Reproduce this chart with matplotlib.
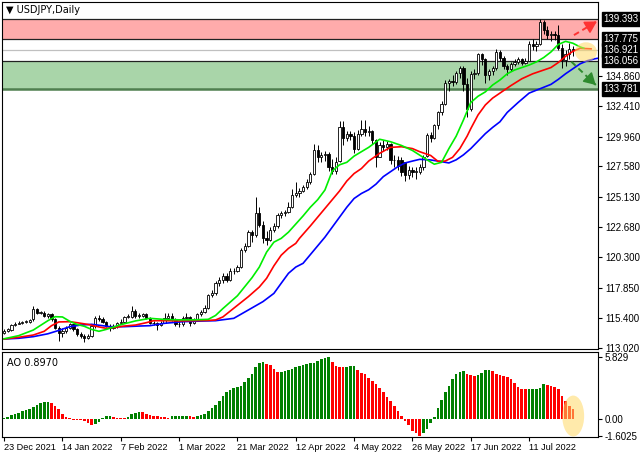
import numpy as np
import matplotlib.pyplot as plt
import matplotlib.transforms as mtransforms
from matplotlib.patches import Ellipse

plt.rcParams['font.family'] = ['Liberation Sans', 'DejaVu Sans']

# x-axis date labels, one every 16 bars
dates = ['23 Dec 2021', '14 Jan 2022', '7 Feb 2022', '1 Mar 2022', '21 Mar 2022',
         '12 Apr 2022', '4 May 2022', '26 May 2022', '17 Jun 2022', '11 Jul 2022']
date_pos = [0, 16, 32, 48, 64, 80, 96, 112, 128, 144]

# daily candles
opens = [114.2, 114.4, 114.45, 114.85, 114.95, 115.05, 115.1, 115.1, 115.3, 116.1,
         115.85, 115.85, 115.6, 115.7, 115.3, 114.65, 114.2, 114.35, 114.6, 114.9,
         114.5, 114.15, 114.0, 113.85, 114.0, 114.75, 115.45, 115.3, 115.1, 114.8,
         114.6, 114.75, 115.0, 115.1, 115.5, 115.5, 116.0, 115.6, 115.6, 115.7,
         115.4, 115.0, 115.0, 114.85, 115.05, 115.45, 115.6, 115.3, 114.95, 114.9,
         115.4, 115.5, 115.05, 115.3, 115.7, 115.9, 116.2, 117.25, 117.4, 118.2,
         118.45, 118.8, 118.5, 119.15, 119.2, 119.5, 120.85, 121.15, 122.35, 122.05,
         123.8, 122.85, 121.8, 121.7, 122.5, 122.8, 123.65, 123.8, 123.95, 124.35,
         125.3, 125.4, 125.6, 125.95, 126.35, 126.95, 128.85, 128.3, 128.45, 128.55,
         127.5, 127.2, 128.0, 130.75, 129.85, 130.2, 130.05, 128.95, 130.2, 130.55,
         130.3, 130.4, 129.7, 128.35, 129.25, 129.15, 129.35, 128.1, 128.05, 128.05,
         127.9, 126.9, 127.3, 127.1, 127.15, 127.5, 128.4, 130.1, 129.85, 130.9,
         131.9, 132.6, 134.3, 134.4, 134.35, 135.1, 135.45, 134.2, 132.2, 135.0,
         135.1, 136.6, 136.2, 134.9, 135.2, 135.45, 136.75, 136.25, 135.6, 135.35,
         135.75, 135.95, 136.2, 135.9, 136.05, 137.4, 137.25, 137.4, 139.15, 138.5,
         138.1, 138.2, 138.1, 137.05, 136.1, 136.6, 136.95]
highs = [114.55, 114.6, 114.95, 115.1, 115.15, 115.2, 115.25, 115.35, 116.35, 116.2,
         116.0, 115.95, 115.85, 115.8, 115.4, 114.8, 114.6, 114.8, 115.05, 114.95,
         114.6, 114.3, 114.1, 114.15, 114.85, 115.6, 115.65, 115.5, 115.2, 114.9,
         114.9, 115.1, 115.3, 115.6, 115.75, 116.35, 116.1, 115.8, 115.85, 115.8,
         115.5, 115.2, 115.1, 115.2, 115.8, 115.8, 115.8, 115.4, 115.2, 115.55,
         115.8, 115.6, 115.45, 115.85, 116.05, 116.45, 117.35, 117.7, 118.4, 118.7,
         119.0, 119.0, 119.4, 119.45, 119.7, 121.0, 121.4, 122.5, 122.45, 125.1,
         124.3, 123.2, 122.4, 122.75, 123.0, 123.85, 124.0, 124.05, 124.7, 125.8,
         126.3, 125.85, 126.1, 126.6, 127.1, 129.4, 129.3, 128.7, 128.8, 128.7,
         128.2, 128.3, 131.2, 131.2, 130.45, 130.4, 130.35, 130.5, 131.3, 131.3,
         130.8, 130.5, 129.8, 129.5, 129.7, 129.6, 129.45, 128.45, 128.4, 128.3,
         127.95, 127.6, 127.5, 127.5, 127.8, 128.5, 130.25, 130.3, 131.0, 132.0,
         132.8, 134.5, 134.6, 134.9, 135.25, 135.6, 135.6, 134.7, 135.2, 135.4,
         136.7, 136.7, 136.3, 135.4, 135.6, 136.95, 136.9, 136.4, 135.8, 135.95,
         136.15, 136.35, 136.3, 136.3, 137.6, 137.8, 137.6, 139.39, 139.3, 138.85,
         138.4, 138.45, 138.9, 137.4, 136.9, 137.45, 137.2]
lows = [114.1, 114.3, 114.4, 114.8, 114.9, 114.95, 115.0, 115.05, 115.2, 115.75,
        115.7, 115.5, 115.45, 115.2, 114.5, 113.6, 113.9, 114.2, 114.5, 114.4,
        114.0, 113.8, 113.5, 113.7, 113.9, 114.6, 115.2, 115.0, 114.7, 114.4,
        114.5, 114.65, 114.9, 115.0, 115.4, 115.45, 115.45, 115.4, 115.5, 115.3,
        114.9, 114.85, 114.45, 114.8, 115.0, 115.35, 115.2, 114.8, 114.7, 114.8,
        115.3, 114.75, 114.95, 115.2, 115.6, 115.8, 116.1, 117.1, 117.3, 118.0,
        118.2, 118.3, 118.35, 118.95, 119.1, 119.4, 120.7, 121.1, 121.5, 121.95,
        122.7, 121.4, 121.3, 121.6, 122.3, 122.65, 123.4, 123.6, 123.85, 124.2,
        125.1, 125.1, 125.5, 125.8, 126.2, 126.9, 127.9, 127.9, 128.0, 127.2,
        126.95, 127.0, 127.9, 129.3, 129.6, 129.65, 128.65, 128.85, 130.0, 130.0,
        130.0, 129.4, 127.55, 128.3, 128.8, 128.9, 127.8, 127.5, 127.3, 126.8,
        126.4, 126.6, 126.7, 126.6, 127.0, 127.3, 128.3, 129.5, 129.8, 130.6,
        131.7, 132.5, 133.6, 134.0, 134.2, 134.7, 133.6, 131.5, 132.0, 134.6,
        134.9, 135.7, 134.3, 134.5, 134.9, 135.3, 136.0, 135.4, 134.9, 135.2,
        135.6, 135.8, 135.7, 135.8, 136.0, 136.9, 136.8, 137.3, 138.2, 137.8,
        137.6, 137.7, 136.9, 135.5, 135.65, 136.2, 136.4]
closes = [114.4, 114.5, 114.85, 114.95, 115.05, 115.1, 115.1, 115.25, 116.1, 115.85,
          115.9, 115.6, 115.7, 115.3, 114.65, 114.2, 114.35, 114.6, 114.9, 114.5,
          114.15, 114.0, 113.85, 114.0, 114.75, 115.45, 115.3, 115.1, 114.8, 114.6,
          114.75, 115.0, 115.1, 115.5, 115.55, 116.0, 115.6, 115.6, 115.7, 115.4,
          115.0, 115.0, 114.85, 115.05, 115.45, 115.6, 115.3, 114.95, 114.9, 115.4,
          115.5, 115.05, 115.3, 115.7, 115.9, 116.2, 117.25, 117.4, 118.2, 118.45,
          118.8, 118.5, 119.15, 119.2, 119.5, 120.85, 121.15, 122.35, 122.05, 123.8,
          122.85, 121.8, 121.7, 122.5, 122.8, 123.65, 123.8, 123.95, 124.35, 125.3,
          125.4, 125.6, 125.95, 126.35, 126.95, 128.85, 128.3, 128.45, 128.55, 127.5,
          127.2, 127.9, 130.75, 129.85, 130.2, 130.05, 128.95, 130.2, 130.55, 130.3,
          130.4, 129.7, 128.35, 129.25, 129.15, 129.35, 128.1, 128.05, 127.6, 127.1,
          126.9, 127.3, 127.1, 127.2, 127.5, 128.3, 130.1, 129.85, 130.9, 131.9,
          132.6, 134.3, 134.4, 134.35, 135.1, 135.45, 134.2, 132.2, 135.0, 135.1,
          136.6, 136.2, 134.9, 135.2, 135.45, 136.75, 136.25, 135.6, 135.35, 135.75,
          135.95, 136.2, 135.9, 136.05, 137.4, 137.25, 137.4, 139.15, 138.5, 138.1,
          138.2, 138.1, 137.05, 136.1, 136.6, 136.95, 136.92]

# Awesome Oscillator histogram
ao = [0.06, 0.2, 0.35, 0.47, 0.6, 0.72, 0.85, 0.97, 1.16, 1.35,
      1.5, 1.57, 1.6, 1.55, 1.2, 0.9, 0.5, 0.2, 0.06, -0.05,
      -0.1, -0.12, -0.15, -0.35, -0.6, -0.5, -0.25, 0.05, 0.25, 0.3,
      0.2, 0.12, 0.06, 0.05, 0.2, 0.45, 0.55, 0.65, 0.62, 0.5,
      0.4, 0.3, 0.25, 0.2, 0.15, 0.12, 0.25, 0.28, 0.3, 0.31,
      0.33, 0.28, 0.2, 0.28, 0.38, 0.45, 0.75, 1.0, 1.3, 1.7,
      2.15, 2.5, 2.75, 2.9, 3.0, 3.15, 3.45, 3.85, 4.25, 4.9,
      5.25, 5.35, 5.2, 5.1, 4.7, 4.4, 4.45, 4.5, 4.6, 4.7,
      4.85, 4.95, 5.08, 5.17, 5.22, 5.3, 5.45, 5.6, 5.78, 5.83,
      5.33, 5.0, 4.88, 4.85, 4.9, 4.98, 5.0, 4.6, 4.3, 4.2,
      3.9, 3.6, 3.3, 2.95, 2.5, 2.1, 1.7, 1.2, 0.8, 0.3,
      -0.2, -0.6, -1.1, -1.35, -1.6, -1.35, -0.9, -0.4, 0.2, 1.05,
      1.75, 2.5, 3.1, 3.8, 4.2, 4.45, 4.5, 4.2, 4.1, 4.08,
      4.12, 4.3, 4.6, 4.65, 4.5, 4.25, 4.1, 4.0, 3.95, 3.8,
      3.4, 3.0, 2.8, 2.78, 2.8, 2.82, 2.85, 2.9, 3.25, 3.2,
      3.1, 3.0, 2.8, 2.2, 1.72, 1.22, 0.897]

# Alligator lines (bar index, price)
lips_x = [0, 4, 8, 12, 14, 16, 18, 20, 22, 24, 26, 28, 32, 36, 40, 44, 48, 52, 56,
          58, 60, 64, 68, 70, 72, 74, 76, 78, 80, 82, 84, 86, 88, 90, 92, 94, 96,
          100, 103, 106, 109, 112, 116, 118, 120, 122, 124, 126, 128, 130, 132,
          134, 136, 138, 140, 142, 144, 146, 148, 150, 152, 154, 156, 158, 159]
lips_y = [113.75, 114.0, 114.45, 115.2, 115.52, 115.5, 115.15, 114.9, 114.75, 114.5,
          114.35, 114.5, 114.88, 115.18, 115.39, 115.3, 115.27, 115.27, 115.31,
          115.62, 116.17, 117.2, 118.65, 119.5, 120.7, 121.5, 121.8, 122.3, 122.95,
          123.6, 124.3, 124.9, 125.68, 127.2, 127.7, 127.9, 128.4, 129.1, 129.75,
          129.55, 129.25, 128.85, 128.1, 127.75, 127.9, 129.0, 130.0, 131.3, 132.7,
          133.2, 133.55, 134.1, 134.5, 135.0, 135.3, 135.5, 135.7, 135.95, 136.3,
          136.75, 137.35, 137.6, 137.45, 137.15, 137.05]
teeth_x = [0, 4, 8, 11, 13, 15, 18, 20, 23, 26, 28, 30, 33, 36, 39, 41, 44, 48, 52,
           56, 58, 60, 63, 67, 70, 72, 74, 76, 78, 80, 81, 84, 86, 88, 90, 92, 94,
           96, 98, 100, 103, 106, 109, 112, 114, 117, 119, 121, 123, 125, 127, 128,
           130, 132, 134, 136, 139, 142, 145, 147, 150, 152, 154, 156, 158, 161]
teeth_y = [113.73, 113.87, 114.05, 114.35, 114.8, 115.1, 115.12, 115.04, 114.9, 114.7,
           114.59, 114.65, 114.77, 114.85, 115.04, 115.2, 115.2, 115.18, 115.2, 115.22,
           115.26, 115.5, 116.2, 117.13, 117.9, 118.6, 119.6, 120.45, 121.0, 121.4,
           121.8, 122.8, 123.5, 124.2, 124.9, 125.6, 126.4, 127.0, 127.4, 128.0,
           128.62, 129.1, 129.15, 129.0, 128.75, 128.45, 127.98, 128.0, 128.3, 129.0,
           130.0, 130.6, 131.7, 132.5, 133.05, 133.45, 134.05, 134.6, 135.0, 135.2,
           135.5, 135.9, 136.4, 136.8, 137.04, 137.0]
jaw_x = [0, 4, 8, 12, 15, 18, 21, 24, 27, 29, 33, 37, 40, 44, 49, 54, 58, 63, 67,
         71, 74, 76, 78, 80, 82, 84, 86, 88, 90, 92, 94, 96, 98, 100, 102, 104,
         106, 108, 110, 112, 114, 117, 120, 122, 124, 126, 128, 130, 132, 134, 136,
         138, 141, 144, 147, 150, 152, 154, 156, 158, 160, 162, 164]
jaw_y = [113.73, 113.79, 113.92, 114.15, 114.42, 114.72, 114.85, 114.91, 114.8, 114.72,
         114.72, 114.77, 114.8, 114.99, 115.12, 115.17, 115.2, 115.39, 116.06, 116.73,
         117.39, 118.2, 119.0, 119.5, 119.8, 120.5, 121.2, 121.9, 122.7, 123.5,
         124.3, 125.0, 125.4, 125.7, 126.15, 126.75, 127.15, 127.55, 127.85, 128.0,
         128.14, 128.09, 127.95, 127.85, 128.1, 128.5, 129.0, 129.6, 130.2, 130.7,
         131.15, 131.9, 132.7, 133.45, 133.8, 134.15, 134.55, 135.0, 135.4, 135.8,
         136.05, 136.2, 136.3]

# levels
res_hi, res_lo = 139.393, 137.775
last_px = 136.921
sup_hi, sup_lo = 136.056, 133.781
price_ticks = [113.020, 115.400, 117.850, 120.300, 122.680, 125.130, 127.580,
               129.960, 132.410, 134.860]
ao_ticks = [5.829, 0.0, -1.6025]
ao_tick_labels = ['5.829', '0.00', '-1.6025']

W, H = 640, 457


def px_box(l, t, r, b):
    return [l / W, 1 - b / H, (r - l) / W, (b - t) / H]


fig = plt.figure(figsize=(6.4, 4.57), dpi=100)
ax = fig.add_axes(px_box(2, 2, 598, 349))
ax2 = fig.add_axes(px_box(2, 352, 598, 437))

o = np.array(opens)
c = np.array(closes)
hi = np.array(highs)
lo = np.array(lows)
n = len(c)
idx = np.arange(n)

# support / resistance zones
ax.axhspan(res_lo, res_hi, color='#ffabab', zorder=0, lw=0)
ax.axhspan(sup_lo, sup_hi, color='#a9d5a9', zorder=0, lw=0)
ax.axhline(res_hi, color='#222222', lw=0.9, zorder=1)
ax.axhline(res_lo, color='#222222', lw=0.9, zorder=1)
ax.axhline(last_px, color='#c0c0c0', lw=0.9, zorder=1)
ax.axhline(sup_hi, color='#222222', lw=0.9, zorder=1)
ax.axhline(sup_lo, color='#4f7f4f', lw=1.8, zorder=1)

# candles
up = c >= o
ax.vlines(idx, lo, hi, color='black', lw=0.7, zorder=3)
body = np.maximum(np.abs(c - o), 0.05)
ax.bar(idx, body, bottom=np.minimum(o, c), width=0.62,
       color=np.where(up, 'white', 'black'), edgecolor='black', linewidth=0.6, zorder=4)

# alligator
ax.plot(jaw_x, jaw_y, color='#0000ff', lw=1.2, zorder=5)
ax.plot(teeth_x, teeth_y, color='#ff0000', lw=1.2, zorder=5)
ax.plot(lips_x, lips_y, color='#00ee00', lw=1.2, zorder=5)

# forecast arrows
last = n - 1
for (x0, y0, x1, y1, col) in [(last + 0.3, 138.1, last + 6.6, 139.2, '#ff3333'),
                              (last - 0.4, 135.97, last + 6.3, 134.1, '#2e8b2e')]:
    ax.plot([x0, x1], [y0, y1], ls=(0, (3, 2)), color=col, lw=1.4, zorder=7)
    ax.annotate('', xy=(x1, y1), xytext=(x1 - (x1 - x0) * 0.2, y1 - (y1 - y0) * 0.2),
                arrowprops=dict(arrowstyle='-|>,head_length=0.7,head_width=0.4',
                                color=col, lw=1.2, shrinkA=0, shrinkB=0), zorder=7)

ax.add_patch(Ellipse((last + 3.6, 136.75), width=6.0, height=1.55,
                     facecolor='#ffd966', alpha=0.55, lw=0, zorder=6))

ax.set_xlim(-0.58, 162.9)
ax.set_ylim(112.93, 140.756)

# right price axis
ax.yaxis.tick_right()
ax.set_yticks(price_ticks)
ax.set_yticklabels([f'{v:.3f}' for v in price_ticks])
ax.tick_params(axis='y', length=3, pad=2, labelsize=7, direction='out', width=0.8)
ax.tick_params(axis='x', bottom=False, labelbottom=False)

trans = mtransforms.blended_transform_factory(ax.transAxes, ax.transData)
for v in [res_hi, res_lo, last_px, sup_hi, sup_lo]:
    ax.text(1.009, v, f'{v:.3f}', transform=trans, va='center', ha='left',
            color='white', fontsize=7, clip_on=False,
            bbox=dict(boxstyle='square,pad=0.18', fc='black', ec='black'))

ax.text(0.007, 0.992, '\u25bc USDJPY,Daily', transform=ax.transAxes, va='top',
        ha='left', fontsize=7, family=['DejaVu Sans'])

# AO panel
ao = np.array(ao)
ao_col = ['#008000'] + ['#008000' if ao[i] >= ao[i - 1] else '#ff0000' for i in range(1, n)]
ax2.bar(idx, ao, width=0.72, color=ao_col, zorder=2)
ax2.add_patch(Ellipse((last + 0.1, 0.28), width=6.0, height=3.85,
                      facecolor='#ffd966', alpha=0.55, lw=0, zorder=3))
ax2.set_xlim(-0.58, 162.9)
ax2.set_ylim(-1.69, 6.30)
ax2.yaxis.tick_right()
ax2.set_yticks(ao_ticks)
ax2.set_yticklabels(ao_tick_labels)
ax2.tick_params(axis='y', length=3, pad=2, labelsize=7, width=0.8)
ax2.set_xticks(date_pos)
ax2.set_xticklabels(dates)
ax2.tick_params(axis='x', length=3, pad=1, labelsize=6.6, width=0.8)
plt.setp(ax2.get_xticklabels(), ha='left')
ax2.text(0.008, 0.93, f'AO {ao[-1]:.4f}', transform=ax2.transAxes, va='top',
         ha='left', fontsize=7, family=['DejaVu Sans'])

for a in (ax, ax2):
    for s in a.spines.values():
        s.set_color('black')
        s.set_linewidth(0.8)

fig.savefig('out.png', dpi=100)
